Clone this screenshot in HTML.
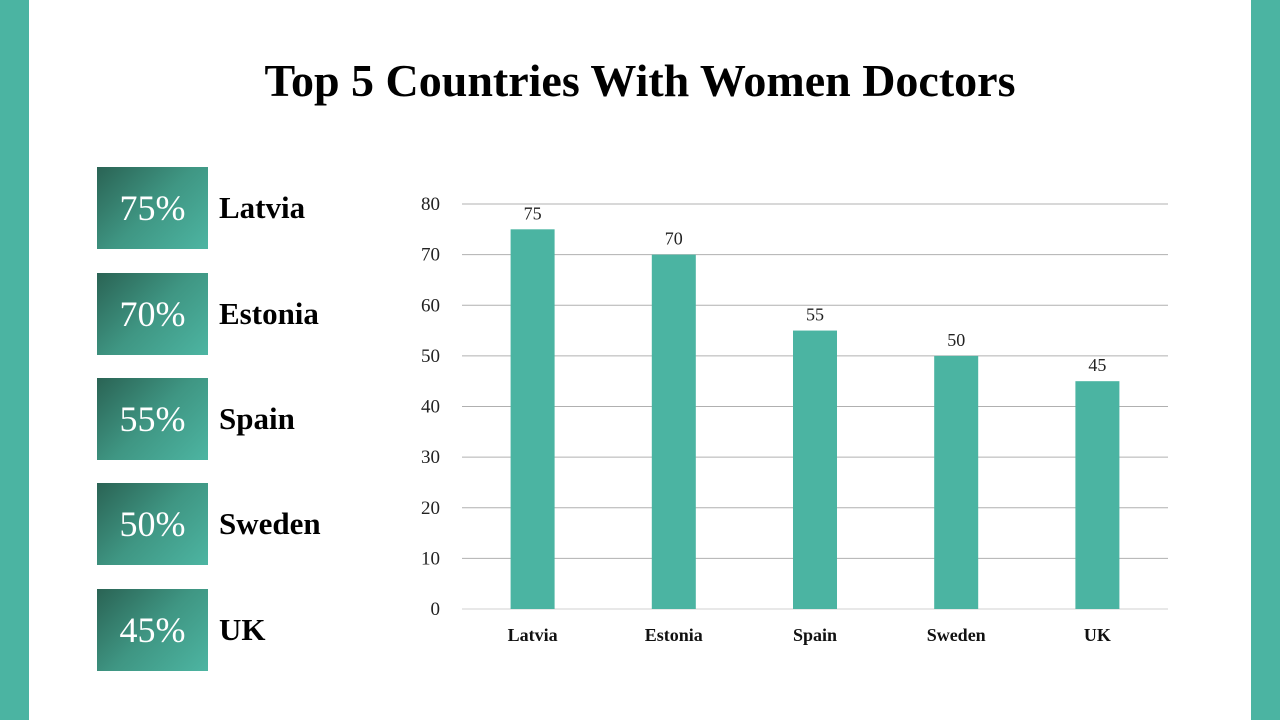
<!DOCTYPE html>
<html><head><meta charset="utf-8"><style>
body{margin:0;width:1280px;height:720px;position:relative;background:#fff;font-family:"Liberation Serif",serif;overflow:hidden}
.strip{position:absolute;top:0;width:29px;height:720px;background:#4bb4a2}
.box{position:absolute;left:97px;width:111px;height:82px;background:linear-gradient(135deg,#2a6354 0%,#3f9683 50%,#4db5a2 100%);color:#fff;font-size:36px;display:flex;align-items:center;justify-content:center}
.lbl{position:absolute;left:219px;font-size:31px;font-weight:bold;color:#000;height:82px;display:flex;align-items:center}
h1{position:absolute;top:54px;left:0;width:1280px;text-align:center;margin:0;font-size:46px;font-weight:bold}
</style></head><body>
<div class="strip" style="left:0"></div>
<div class="strip" style="left:1251px"></div>
<h1>Top 5 Countries With Women Doctors</h1>
<div id="cards"></div>
<svg id="chart" width="1280" height="720" style="position:absolute;left:0;top:0"></svg>
<script>
const categories=["Latvia","Estonia","Spain","Sweden","UK"];
const values=[75,70,55,50,45];
const ticks=[0,10,20,30,40,50,60,70,80];
const tops=[167,273,378,483,589];
const cards=document.getElementById('cards');
categories.forEach((c,i)=>{
 const b=document.createElement('div');b.className='box';b.style.top=tops[i]+'px';b.textContent=values[i]+'%';
 
 
 cards.appendChild(b);
 const l=document.createElement('div');l.className='lbl';l.style.top=tops[i]+'px';l.textContent=c;
 
 
 cards.appendChild(l);
});
const svg=document.getElementById('chart');const NS='http://www.w3.org/2000/svg';
const x0=462,x1=1168,y0=609,y1=204,ymax=80;
const y=v=>y0-(v/ymax)*(y0-y1);
const band=(x1-x0)/categories.length;
const xc=i=>x0+band*(i+0.5);
function mk(t,a,txt){const e=document.createElementNS(NS,t);for(const k in a)e.setAttribute(k,a[k]);if(txt!==undefined)e.textContent=txt;svg.appendChild(e);return e;}
ticks.forEach(t=>{
 const g=mk('line',{x1:x0,x2:x1,y1:y(t),y2:y(t),stroke:t===0?'#d0d0d0':'#b0b0b0','stroke-width':1});
 
 
 const l=mk('text',{x:440,y:y(t)+6,'text-anchor':'end','font-size':19,fill:'#222','font-family':'Liberation Serif, serif'},t);
 
 
});
categories.forEach((c,i)=>{
 const w=44;
 const r=mk('rect',{x:xc(i)-w/2,y:y(values[i]),width:w,height:y0-y(values[i]),fill:'#4bb4a2'});
 
 
 const v=mk('text',{x:xc(i),y:y(values[i])-10,'text-anchor':'middle','font-size':18,fill:'#222','font-family':'Liberation Serif, serif'},values[i]);
 
 
 const xl=mk('text',{x:xc(i),y:641,'text-anchor':'middle','font-size':18,'font-weight':'bold',fill:'#111','font-family':'Liberation Serif, serif'},c);
 
 
});
</script>
</body></html>
